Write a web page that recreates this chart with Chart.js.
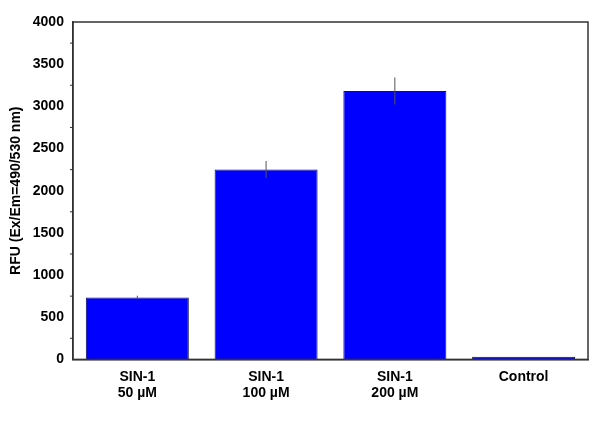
<!DOCTYPE html>
<html><head><meta charset="utf-8">
<script src="https://cdn.jsdelivr.net/npm/chart.js@4/dist/chart.umd.min.js"></script>
<style>body{margin:0;background:#fff}#w{width:600px;height:424px}</style>
</head><body><div id="w"><canvas id="c" width="600" height="424"></canvas></div>
<script>
const categories = [["SIN-1","50 µM"],["SIN-1","100 µM"],["SIN-1","200 µM"],"Control"];
const values = [735, 2252, 3182, 30];
const errors = [20, 100, 160, 0];
const yTicks = [0,500,1000,1500,2000,2500,3000,3500,4000];

const errPlugin = {
  id:'err',
  afterDatasetsDraw(chart){
    const ctx=chart.ctx, x=chart.scales.x, y=chart.scales.y;
    ctx.save(); ctx.strokeStyle='#555'; ctx.lineWidth=1;
    values.forEach((v,i)=>{
      if(!errors[i]) return;
      const px=x.getPixelForValue(i);
      ctx.beginPath();
      ctx.moveTo(px,y.getPixelForValue(v-errors[i]));
      ctx.lineTo(px,y.getPixelForValue(v+errors[i]));
      ctx.stroke();
    });
    const a=chart.chartArea;
    ctx.strokeStyle='#333'; ctx.lineWidth=1.5;
    ctx.strokeRect(a.left,a.top,a.right-a.left,a.bottom-a.top);
    ctx.lineWidth=1;
    for(let t=250;t<4000;t+=500){
      const py=y.getPixelForValue(t);
      ctx.beginPath();ctx.moveTo(a.left-3,py);ctx.lineTo(a.left,py);ctx.stroke();
    }
    ctx.restore();
  }
};

new Chart(document.getElementById('c'),{
  type:'bar',
  data:{labels:categories,datasets:[{data:values,backgroundColor:'#0000ff',borderColor:'#101060',borderWidth:1,categoryPercentage:0.8,barPercentage:1}]},
  options:{
    responsive:false,animation:false,
    layout:{padding:{top:22,right:12,bottom:18,left:4}},
    plugins:{legend:{display:false},tooltip:{enabled:false}},
    scales:{
      x:{grid:{display:false,drawTicks:true,tickLength:5,color:'#333'},border:{color:'#333',width:1.5},
         ticks:{color:'#000',font:{family:'Liberation Sans',weight:'bold',size:14},padding:4}},
      y:{min:0,max:4000,afterBuildTicks(s){s.ticks=yTicks.map(v=>({value:v}));},
         grid:{display:false,drawTicks:true,tickLength:5},border:{color:'#333',width:1.5},
         ticks:{color:'#000',font:{family:'Liberation Sans',weight:'bold',size:14},padding:4,callback:v=>String(v)},
         title:{display:true,text:'RFU (Ex/Em=490/530 nm)',color:'#000',font:{family:'Liberation Sans',weight:'bold',size:14},padding:4}}
    }
  },
  plugins:[errPlugin]
});
</script></body></html>
